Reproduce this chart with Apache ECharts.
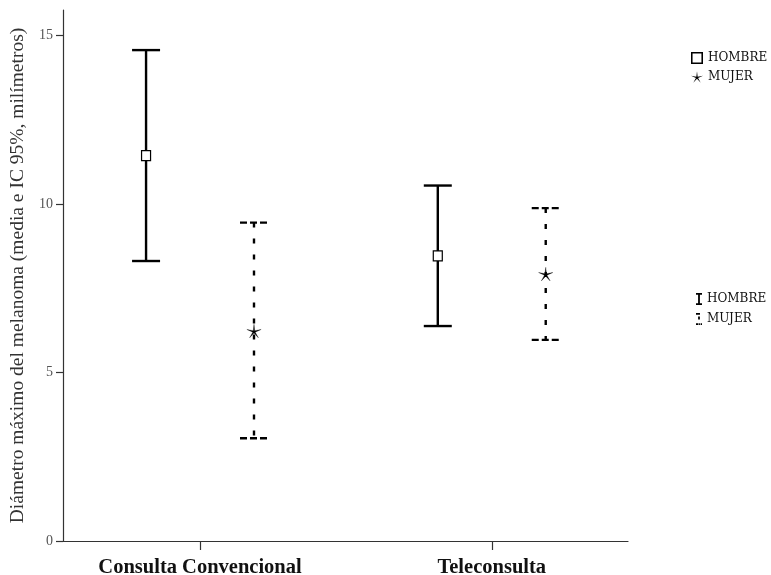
<!DOCTYPE html>
<html>
<head>
<meta charset="utf-8">
<script src="https://cdn.jsdelivr.net/npm/echarts@6/dist/echarts.min.js"></script>
<style>
  html, body { margin: 0; padding: 0; background: #fff; }
  #chart { width: 771px; height: 575px; }
</style>
</head>
<body>
<div id="chart"></div>
<script>
  // datos (media e IC 95%)
  var categories = ['Consulta Convencional', 'Teleconsulta'];
  var hombreMedia = [11.44, 8.46];
  var hombreInf = [8.31, 6.38];
  var hombreSup = [14.57, 10.55];
  var mujerMedia = [6.21, 7.9];
  var mujerInf = [3.05, 5.97];
  var mujerSup = [9.45, 9.88];
  var yTicks = [0, 5, 10, 15];

  var myChart = echarts.init(document.getElementById('chart'));

  // estrella de 5 puntas (marcador MUJER)
  function starPoints(cx, cy, r, ri) {
    var pts = [];
    for (var k = 0; k < 10; k++) {
      var a = -Math.PI / 2 + k * Math.PI / 5;
      var rr = k % 2 === 0 ? r : ri;
      pts.push([cx + rr * Math.cos(a), cy + rr * Math.sin(a)]);
    }
    return pts;
  }
  var starPath = 'path://' + starPoints(10, 10, 10, 1.8).map(function (p, i) {
    return (i ? 'L' : 'M') + p[0].toFixed(2) + ',' + p[1].toFixed(2);
  }).join('') + 'Z';
  var squarePath = 'path://M0,0H10V10H0Z M1.3,1.3V8.7H8.7V1.3Z';
  var barPath = 'path://M0,0H6V1.8H3.9V10.2H6V12H0V10.2H2.1V1.8H0Z';
  var dashBarPath = 'path://M0,0H4V1.8H0Z M2.1,3.5H3.9V6.5H2.1Z M0,10.2H2V12H0Z M2.5,10.2H3.9V12H2.5Z M4.6,10.2H6V12H4.6Z';

  function makeData(media, inf, sup) {
    return categories.map(function (c, i) {
      return [i, media[i], inf[i], sup[i]];
    });
  }

  function renderErr(offset, mujer) {
    return function (params, api) {
      var x = api.value(0) + offset;
      var top = api.coord([x, api.value(3)]);
      var mid = api.coord([x, api.value(1)]);
      var bot = api.coord([x, api.value(2)]);
      var cap = 14;
      var lineStyle = {
        stroke: '#000',
        lineWidth: 2.4,
        lineDash: mujer ? [5, 11] : null
      };
      var capStyle = {
        stroke: '#000',
        lineWidth: 2.4,
        lineDash: mujer ? [7, 3] : null
      };
      var marker;
      if (mujer) {
        marker = {
          type: 'polygon',
          shape: { points: starPoints(mid[0], mid[1], 7.5, 1.3) },
          style: { fill: '#000', stroke: '#000', lineWidth: 0.3 }
        };
      } else {
        marker = {
          type: 'rect',
          shape: { x: mid[0] - 4.5, y: mid[1] - 5, width: 9, height: 10 },
          style: { fill: '#fff', stroke: '#000', lineWidth: 1.2 }
        };
      }
      return {
        type: 'group',
        children: [
          { type: 'line', shape: { x1: top[0], y1: top[1], x2: bot[0], y2: bot[1] }, style: lineStyle },
          { type: 'line', shape: { x1: top[0] - cap, y1: top[1], x2: top[0] + cap, y2: top[1] }, style: capStyle },
          { type: 'line', shape: { x1: bot[0] - cap, y1: bot[1], x2: bot[0] + cap, y2: bot[1] }, style: capStyle },
          marker
        ]
      };
    };
  }

  var serifFont = '"Liberation Serif", "DejaVu Serif", serif';

  var option = {
    backgroundColor: '#fff',
    animation: false,
    grid: {
      left: 63,
      right: 143,
      top: 10,
      bottom: 34,
      containLabel: false,
      outerBoundsMode: 'none'
    },
    legend: [
      {
        orient: 'vertical',
        left: 686,
        top: 47,
        itemWidth: 12,
        itemHeight: 12,
        itemGap: 7,
        itemStyle: { color: '#000', borderWidth: 0 },
        textStyle: { fontFamily: '"DejaVu Serif", serif', fontSize: 12, color: '#111' },
        selectedMode: false,
        data: [
          { name: 'HOMBRE', icon: squarePath },
          { name: 'MUJER', icon: starPath }
        ]
      },
      {
        orient: 'vertical',
        left: 691,
        top: 288,
        itemWidth: 6,
        itemHeight: 12,
        itemGap: 8,
        itemStyle: { color: '#000', borderWidth: 0 },
        textStyle: { fontFamily: '"DejaVu Serif", serif', fontSize: 12, color: '#111' },
        selectedMode: false,
        data: [
          { name: 'HOMBRE', icon: barPath },
          { name: 'MUJER', icon: dashBarPath }
        ]
      }
    ],
    xAxis: {
      type: 'value',
      min: -0.4697,
      max: 1.467,
      splitLine: { show: false },
      axisLine: { show: true, onZero: false, lineStyle: { color: '#333', width: 1.2 } },
      axisTick: {
        show: true,
        length: 9,
        customValues: [0, 1],
        lineStyle: { color: '#333', width: 1.2 }
      },
      axisLabel: {
        customValues: [0, 1],
        margin: 16,
        fontFamily: serifFont,
        fontWeight: 'bold',
        fontSize: 20.5,
        color: '#111',
        formatter: function (v) {
          return categories[Math.round(v)];
        }
      }
    },
    yAxis: {
      type: 'value',
      min: 0,
      max: 15.76,
      name: 'Diámetro máximo del melanoma (media e IC 95%, milímetros)',
      nameLocation: 'middle',
      nameGap: 30,
      nameTextStyle: {
        fontFamily: serifFont,
        fontSize: 19.5,
        color: '#333'
      },
      splitLine: { show: false },
      axisLine: { show: true, onZero: false, lineStyle: { color: '#333', width: 1.2 } },
      axisTick: {
        show: true,
        length: 7,
        customValues: yTicks,
        lineStyle: { color: '#333', width: 1.2 }
      },
      axisLabel: {
        customValues: yTicks,
        margin: 10,
        fontFamily: serifFont,
        fontSize: 14,
        color: '#555'
      }
    },
    series: [
      {
        name: 'HOMBRE',
        type: 'custom',
        color: '#000',
        itemStyle: { color: '#000' },
        renderItem: renderErr(-0.185, false),
        encode: { x: 0, y: [1, 2, 3] },
        data: makeData(hombreMedia, hombreInf, hombreSup)
      },
      {
        name: 'MUJER',
        type: 'custom',
        color: '#000',
        itemStyle: { color: '#000' },
        renderItem: renderErr(0.185, true),
        encode: { x: 0, y: [1, 2, 3] },
        data: makeData(mujerMedia, mujerInf, mujerSup)
      }
    ]
  };

  myChart.setOption(option);
</script>
</body>
</html>
